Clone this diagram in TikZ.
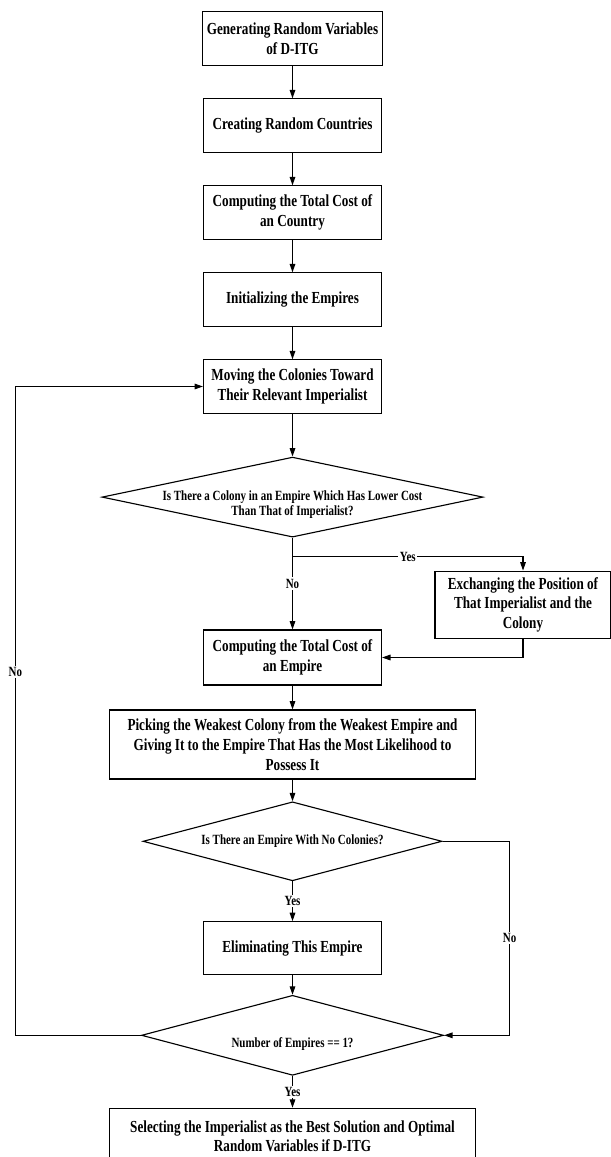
\documentclass[tikz,border=0pt]{standalone}
\usepackage{fontspec}
\setmainfont[FakeStretch=0.78]{Liberation Serif}
\usetikzlibrary{arrows.meta, positioning, shapes.geometric}

\begin{document}
\begin{tikzpicture}[node distance=2.175cm, line width=0.8pt, >={Triangle[length=6pt,width=4pt]},
    process/.style={draw, rectangle, text centered, align=center, font=\fontsize{12}{14}\selectfont\bfseries, minimum width=4.45cm, minimum height=1.33cm},
    decision/.style={draw, diamond, minimum width=7.5cm, minimum height=2cm, inner sep=0pt},
    asktext/.style={align=center, font=\fontsize{10}{10.5}\selectfont\bfseries},
    answer/.style={fill=white, font=\fontsize{10}{12}\selectfont\bfseries, inner sep=1pt}]

    \useasboundingbox (0,0) rectangle (15.275,-28.925);

    % Nodes for the first steps, one under the other
    \node (generate) [process] at (7.3125,-0.9625) {Generating Random Variables\\of D-ITG};
    \node (countries) [process, below of=generate] {Creating Random Countries};
    \node (countryCost) [process, below of=countries] {Computing the Total Cost of\\an Country};
    \node (initEmpires) [process, below of=countryCost] {Initializing the Empires};
    \node (moving) [process, below of=initEmpires] {Moving the Colonies Toward\\Their Relevant Imperialist};

    % First decision and its two branches
    \node (lowerCost) [decision, below of=moving, yshift=-0.59cm, minimum width=9.525cm] {};
    \node (lowerCostText) [asktext, yshift=-0.19cm] at (lowerCost) {Is There a Colony in an Empire Which Has Lower Cost\\Than That of Imperialist?};
    \node (exchange) [process, below of=lowerCost, xshift=5.7625cm, yshift=-0.5125cm, minimum width=4.4cm, minimum height=1.675cm] {Exchanging the Position of\\That Imperialist and the\\Colony};
    \node (empireCost) [process, below of=lowerCost, yshift=-1.835cm, minimum height=1.375cm] {Computing the Total Cost of\\an Empire};
    \node (picking) [process, below of=empireCost, minimum width=9.15cm, minimum height=1.725cm] {Picking the Weakest Colony from the Weakest Empire and\\Giving It to the Empire That Has the Most Likelihood to\\Possess It};

    % Second decision, elimination and last check
    \node (noColonies) [decision, below of=picking, yshift=-0.245cm, minimum width=7.475cm, minimum height=1.975cm] {};
    \node (noColoniesText) [asktext] at (noColonies) {Is There an Empire With No Colonies?};
    \node (eliminate) [process, below of=noColonies, yshift=-0.5cm] {Eliminating This Empire};
    \node (oneLeft) [decision, below of=eliminate, minimum width=7.55cm] {};
    \node (oneLeftText) [asktext, yshift=-0.225cm] at (oneLeft) {Number of Empires == 1?};
    \node (selecting) [process, below of=oneLeft, yshift=-0.35cm, minimum width=9.15cm, minimum height=1.4cm] {Selecting the Imperialist as the Best Solution and Optimal\\Random Variables if D-ITG};

    % Arrows down the main column
    \draw[->] (generate) -- (countries);
    \draw[->] (countries) -- (countryCost);
    \draw[->] (countryCost) -- (initEmpires);
    \draw[->] (initEmpires) -- (moving);
    \draw[->] (moving) -- (lowerCost);
    \draw[->] (lowerCost) -- node[answer] {No} (empireCost);
    \draw[->] (empireCost) -- (picking);
    \draw[->] (picking) -- (noColonies);
    \draw[->] (noColonies) -- node[answer] {Yes} (eliminate);
    \draw[->] (eliminate) -- (oneLeft);
    \draw[->] (oneLeft) -- node[answer] {Yes} (selecting);

    % Side branches
    \coordinate (yesFork) at ([yshift=-0.475cm]lowerCost.south);
    \draw[->] (yesFork) -| node[answer, pos=0.25] {Yes} (exchange.north);
    \draw[->] (exchange.south) |- (empireCost.east);
    \draw[->] (noColonies.east) -- ++(1.675cm,0) |- node[answer, pos=0.25] {No} (oneLeft.east);
    \draw[->] (oneLeft.west) -- ++(-3.1375cm,0) |- node[answer, pos=0.28] {No} (moving.west);

\end{tikzpicture}
\end{document}
